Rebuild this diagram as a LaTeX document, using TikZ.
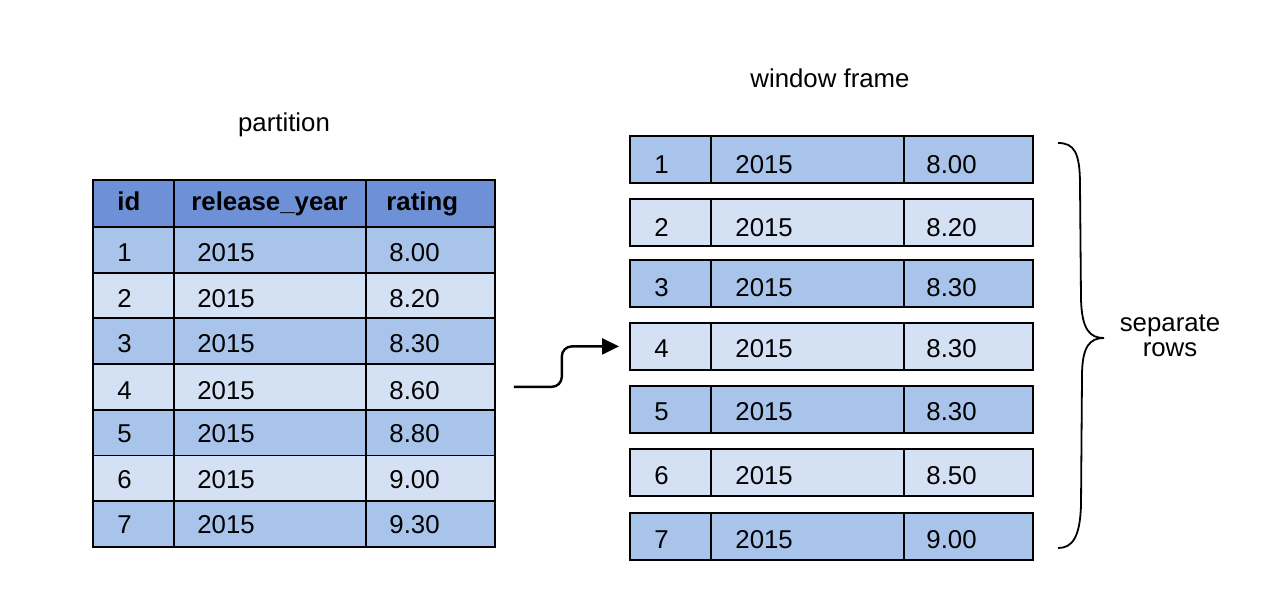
\documentclass[tikz,border=0pt]{standalone}
\usepackage{fontspec}
\setmainfont{Liberation Sans}
\usetikzlibrary{positioning}
\usetikzlibrary{arrows.meta}
\usepackage{xcolor}

\definecolor{headBlue}{HTML}{6D90D6}
\definecolor{darkBlue}{HTML}{A9C4EB}
\definecolor{lightBlue}{HTML}{D4E1F5}

\begin{document}
\begin{tikzpicture}[x=0.5pt, y=-0.5pt]

\useasboundingbox (0,0) rectangle (1268,604);

\tikzset
  {
    myCell/.style=    {draw=black, line width=0.9pt, inner sep=0pt, anchor=north west},
    myText/.style=    {font=\fontsize{12.9}{12.5}\selectfont, inner sep=0pt, anchor=base west},
    myArrow/.style=   {line width=1.2pt, rounded corners=5pt, -{Triangle[length=8.5pt, width=8pt]}}
  }

% partition
\begin{scope}

\node[myText, anchor=base] (partLabel) at (284,131.5) {partition};

% header
\node[myCell, fill=headBlue, minimum width=40.5pt, minimum height=23.5pt] (lhid) at (92,179) {};
\node[myCell, fill=headBlue, minimum width=96pt, minimum height=23.5pt] (lhyear) at (173,179) {};
\node[myCell, fill=headBlue, minimum width=64.5pt, minimum height=23.5pt] (lhrate) at (365,179) {};

\node[myText, font=\fontsize{12.9}{12.5}\selectfont\bfseries] (lhidText) at (117,211) {id};
\node[myText, font=\fontsize{12.9}{12.5}\selectfont\bfseries] (lhyearText) at (191,211) {release\_year};
\node[myText, font=\fontsize{12.9}{12.5}\selectfont\bfseries] (lhrateText) at (386,211) {rating};

% rows
\foreach \i/\ytop/\ybase/\col/\rate in {1/226/262/darkBlue/8.00, 2/271.7/307/lightBlue/8.20,
  3/317.4/352.5/darkBlue/8.30, 4/363.1/399/lightBlue/8.60, 5/408.8/442/darkBlue/8.80,
  6/454.5/488.5/lightBlue/9.00, 7/500.2/533/darkBlue/9.30}
{
\node[myCell, fill=\col, minimum width=40.5pt, minimum height=22.85pt] (lid\i) at (92,\ytop) {};
\node[myCell, fill=\col, minimum width=96pt, minimum height=22.85pt] (lyear\i) at (173,\ytop) {};
\node[myCell, fill=\col, minimum width=64.5pt, minimum height=22.85pt] (lrate\i) at (365,\ytop) {};

\node[myText] (lidText\i) at (117,\ybase) {\i};
\node[myText] (lyearText\i) at (197,\ybase) {2015};
\node[myText] (lrateText\i) at (389,\ybase) {\rate};
}

\end{scope}


% window frame
\begin{scope}

\node[myText, anchor=base] (frameLabel) at (830,87.3) {window frame};

\foreach \i/\ytop/\ybase/\col/\rate in {1/135/173.3/darkBlue/8.00, 2/198/236.7/lightBlue/8.20,
  3/259/296/darkBlue/8.30, 4/322/357/lightBlue/8.30, 5/385/420.7/darkBlue/8.30,
  6/448/484/lightBlue/8.50, 7/512/548.3/darkBlue/9.00}
{
\node[myCell, fill=\col, minimum width=40.5pt, minimum height=23.5pt] (rid\i) at (629,\ytop) {};
\node[myCell, fill=\col, minimum width=96.5pt, minimum height=23.5pt] (ryear\i) at (710,\ytop) {};
\node[myCell, fill=\col, minimum width=64.5pt, minimum height=23.5pt] (rrate\i) at (903,\ytop) {};

\node[myText] (ridText\i) at (654,\ybase) {\i};
\node[myText] (ryearText\i) at (735,\ybase) {2015};
\node[myText] (rrateText\i) at (926,\ybase) {\rate};
}

% brace
\draw[line width=0.9pt] (1058,143) .. controls (1074,143) and (1080,152) .. (1080,185)
  -- (1081,300) .. controls (1082,330) and (1090,338) .. (1104,338)
  .. controls (1090,338) and (1082,346) .. (1082,376)
  -- (1081,505) .. controls (1080,538) and (1072,548) .. (1058,548);

\node[myText, anchor=base, align=center] (braceLabel) at (1170,356.7) {separate\\rows};

\end{scope}

% arrow
\draw[myArrow] ([xshift=9pt]lrate4.east) -- ++(48,0) |- ([xshift=-5pt]rid4.west);

\end{tikzpicture}
\end{document}
